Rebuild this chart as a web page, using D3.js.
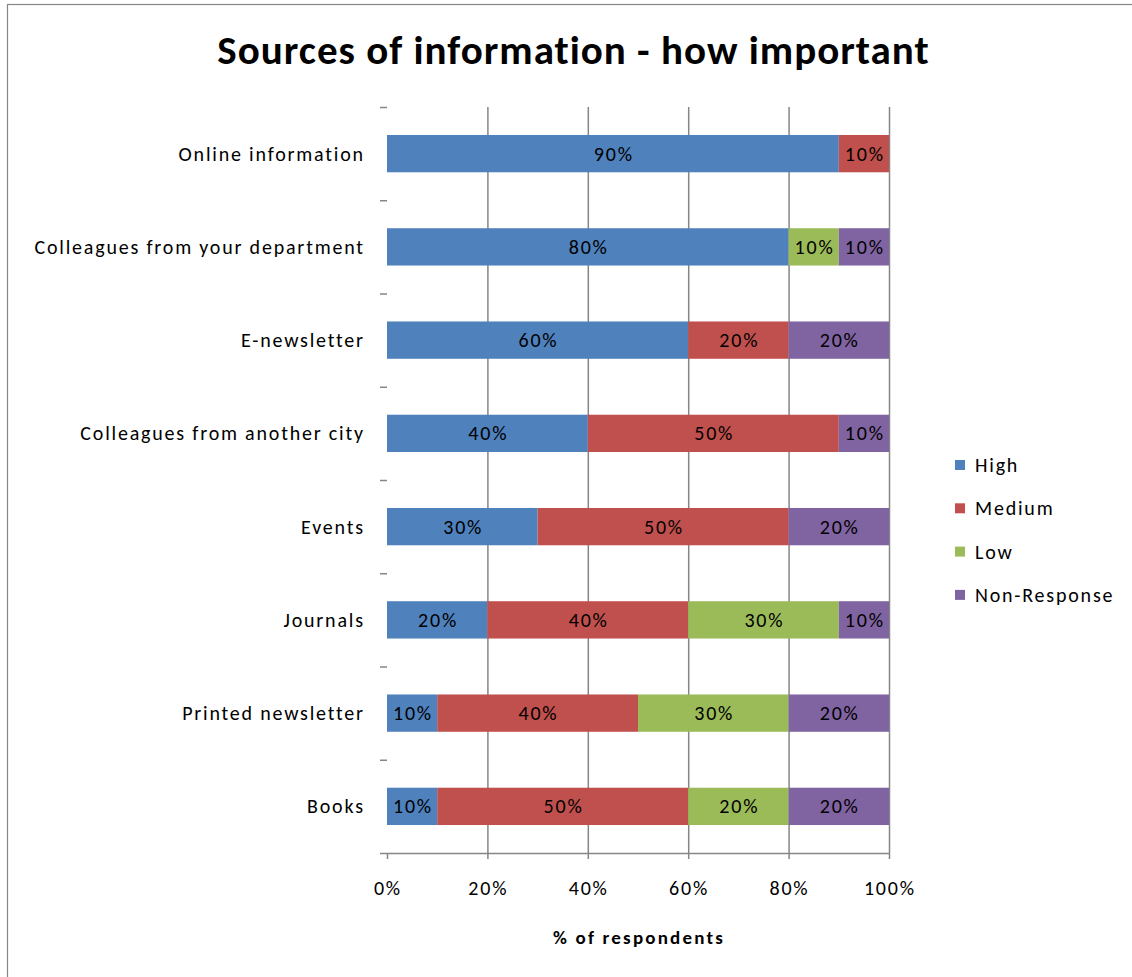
<!DOCTYPE html>
<html>
<head>
<meta charset="utf-8">
<script src="https://cdn.jsdelivr.net/npm/d3@7"></script>
<style>
  body { margin: 0; background: #fff; }
  svg text { font-family: Carlito, Calibri, Lato, "Open Sans", sans-serif; }
</style>
</head>
<body>
<div id="chart"></div>
<script>
// categories, top to bottom
var categories = ["Online information", "Colleagues from your department", "E-newsletter",
    "Colleagues from another city", "Events", "Journals", "Printed newsletter", "Books"];
var seriesNames = ["High", "Medium", "Low", "Non-Response"];
var high = [90, 80, 60, 40, 30, 20, 10, 10];
var medium = [10, 0, 20, 50, 50, 40, 40, 50];
var low = [0, 10, 0, 0, 0, 30, 30, 20];
var nonResponse = [0, 10, 20, 10, 20, 10, 20, 20];
var xTicks = [0, 20, 40, 60, 80, 100];
var colors = ["#4F81BD", "#C0504D", "#9BBB59", "#8064A2"];

var width = 1132, height = 977;
var plot = { left: 387, right: 889, top: 107, bottom: 853 };
var ls = 1.8; // letter spacing for the small labels

var svg = d3.select("#chart").append("svg")
    .attr("width", width)
    .attr("height", height);

// outer frame
svg.append("rect")
    .attr("x", 7.5).attr("y", 4.5)
    .attr("width", 1140).attr("height", 990)
    .attr("fill", "none")
    .attr("stroke", "#868686")
    .attr("stroke-width", 1.2);

svg.append("text")
    .attr("x", 573 + 0.5).attr("y", 64)
    .attr("text-anchor", "middle")
    .style("font-size", "41px")
    .style("font-weight", "bold")
    .style("letter-spacing", "1px")
    .text("Sources of information - how important");

var x = d3.scaleLinear().domain([0, 100]).range([plot.left, plot.right]);
var y = d3.scaleBand().domain(categories)
    .range([plot.top, plot.bottom])
    .paddingInner(0.6).paddingOuter(0.3);

// gridlines
svg.append("g").selectAll("line")
    .data(xTicks.filter(d => d > 0))
    .join("line")
    .attr("x1", d => x(d) + 0.5).attr("x2", d => x(d) + 0.5)
    .attr("y1", plot.top).attr("y2", plot.bottom + 6)
    .attr("stroke", "#868686")
    .attr("stroke-width", 1.5);

// stacked data
var table = categories.map((c, i) => ({
    cat: c, High: high[i], Medium: medium[i], Low: low[i], "Non-Response": nonResponse[i]
}));
var stacked = d3.stack().keys(seriesNames)(table);

var layers = svg.append("g").selectAll("g")
    .data(stacked)
    .join("g")
    .attr("fill", (d, i) => colors[i]);

layers.selectAll("rect")
    .data(d => d.filter(s => s[1] - s[0] > 0))
    .join("rect")
    .attr("x", d => x(d[0]))
    .attr("y", d => y(d.data.cat))
    .attr("width", d => x(d[1]) - x(d[0]))
    .attr("height", y.bandwidth());

layers.selectAll("text")
    .data(d => d.filter(s => s[1] - s[0] > 0))
    .join("text")
    .attr("x", d => (x(d[0]) + x(d[1])) / 2 + ls / 2)
    .attr("y", d => y(d.data.cat) + y.bandwidth() / 2)
    .attr("dy", "0.35em")
    .attr("text-anchor", "middle")
    .attr("fill", "#000")
    .style("font-size", "20px")
    .style("letter-spacing", ls + "px")
    .text(d => (d[1] - d[0]) + "%");

// x axis line + ticks
svg.append("line")
    .attr("x1", plot.left - 7).attr("x2", plot.right + 1)
    .attr("y1", plot.bottom + 0.5).attr("y2", plot.bottom + 0.5)
    .attr("stroke", "#868686").attr("stroke-width", 1.5);
svg.append("line")
    .attr("x1", plot.left + 0.5).attr("x2", plot.left + 0.5)
    .attr("y1", plot.bottom).attr("y2", plot.bottom + 6)
    .attr("stroke", "#868686").attr("stroke-width", 1.5);

svg.append("g").selectAll("text")
    .data(xTicks)
    .join("text")
    .attr("x", d => x(d) + ls / 2)
    .attr("y", 888)
    .attr("dy", "0.35em")
    .attr("text-anchor", "middle")
    .style("font-size", "20px")
    .style("letter-spacing", ls + "px")
    .text(d => d + "%");

// category ticks on the left, at band boundaries
var step = y.step();
svg.append("g").selectAll("line")
    .data(categories)
    .join("line")
    .attr("x1", plot.left - 7).attr("x2", plot.left)
    .attr("y1", d => y(d) - step * 0.3 + 0.5)
    .attr("y2", d => y(d) - step * 0.3 + 0.5)
    .attr("stroke", "#868686").attr("stroke-width", 1.5);

svg.append("g").selectAll("text")
    .data(categories)
    .join("text")
    .attr("x", 363 + ls)
    .attr("y", d => y(d) + y.bandwidth() / 2)
    .attr("dy", "0.35em")
    .attr("text-anchor", "end")
    .style("font-size", "20px")
    .style("letter-spacing", ls + "px")
    .text(d => d);

svg.append("text")
    .attr("x", 638 + 1).attr("y", 937)
    .attr("dy", "0.35em")
    .attr("text-anchor", "middle")
    .style("font-size", "19px")
    .style("font-weight", "bold")
    .style("letter-spacing", "2.2px")
    .text("% of respondents");

// legend
var legend = svg.append("g").selectAll("g")
    .data(seriesNames)
    .join("g")
    .attr("transform", (d, i) => `translate(955, ${465 + i * 43.3})`);
legend.append("rect")
    .attr("x", 0).attr("y", -5)
    .attr("width", 10).attr("height", 10)
    .attr("fill", (d, i) => colors[i]);
legend.append("text")
    .attr("x", 20).attr("y", 0)
    .attr("dy", "0.35em")
    .style("font-size", "20px")
    .style("letter-spacing", ls + "px")
    .text(d => d);
</script>
</body>
</html>
